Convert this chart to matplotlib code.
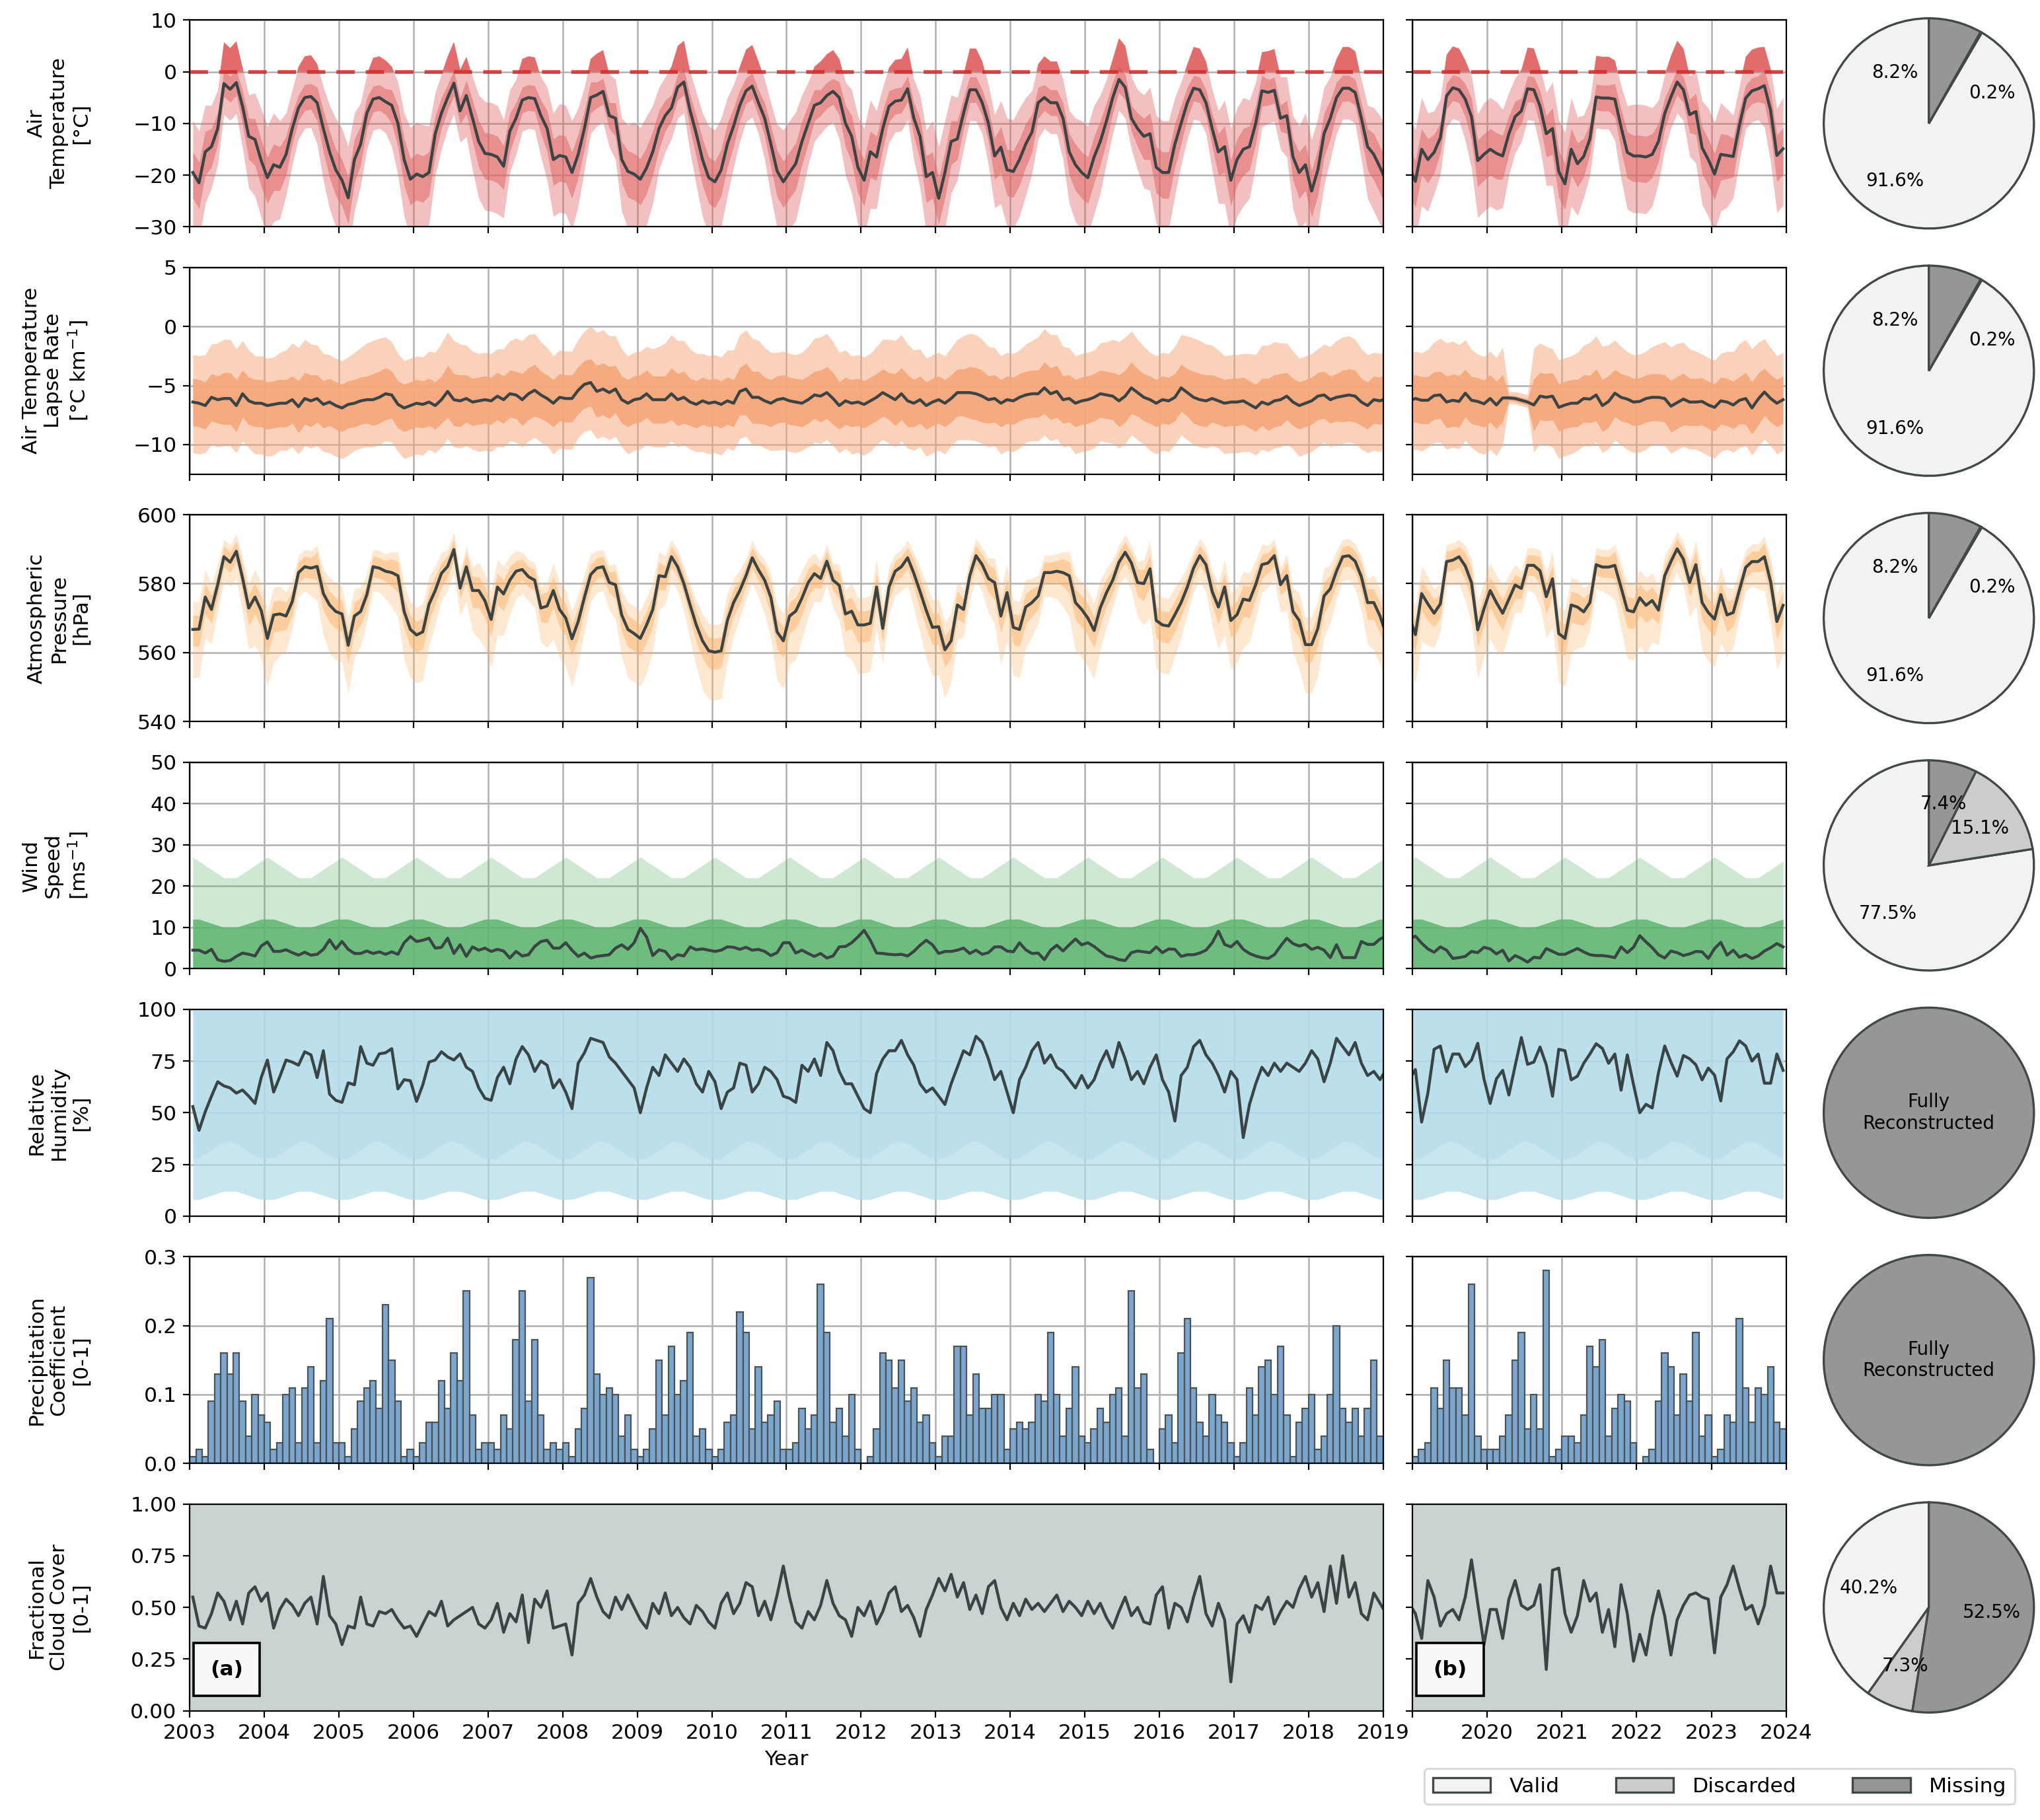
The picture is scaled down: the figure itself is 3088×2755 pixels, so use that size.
import numpy as np
import matplotlib.pyplot as plt
from matplotlib.patches import Patch

plt.rcParams['font.family'] = 'DejaVu Sans'
plt.rcParams['font.size'] = 11.3

# ---- data: monthly means, one row per year 2003 ... 2023 ----
years = np.arange(2003, 2024)

temp_monthly = [
    [-19.5, -21.5, -15.5, -14.5, -11.0, -2.3, -3.4, -2.1, -6.7, -12.5, -13.1, -17.2],
    [-20.5, -18.0, -18.5, -16.0, -11.0, -7.0, -5.0, -4.8, -6.0, -11.0, -15.5, -19.0],
    [-21.0, -24.4, -17.0, -14.0, -8.0, -5.3, -5.0, -5.8, -6.5, -10.0, -17.0, -20.8],
    [-19.8, -20.3, -19.5, -12.0, -8.0, -5.0, -2.2, -7.6, -4.6, -9.0, -13.5, -15.8],
    [-16.0, -16.5, -18.3, -11.5, -9.0, -5.5, -5.0, -5.2, -8.5, -11.0, -17.0, -16.2],
    [-16.5, -19.5, -16.0, -11.0, -5.0, -4.5, -3.8, -8.5, -9.0, -17.0, -19.3, -19.8],
    [-20.8, -18.6, -15.5, -11.0, -8.5, -7.0, -3.0, -2.0, -7.5, -12.0, -17.0, -20.5],
    [-21.3, -19.0, -14.0, -10.5, -6.5, -3.7, -2.8, -6.0, -9.0, -14.0, -19.2, -21.3],
    [-19.5, -17.8, -13.5, -10.0, -6.5, -6.0, -4.6, -3.8, -5.0, -10.0, -12.5, -18.5],
    [-21.0, -15.5, -16.5, -11.0, -6.7, -5.7, -5.5, -3.3, -9.0, -12.5, -20.3, -19.5],
    [-24.5, -19.5, -13.5, -13.0, -8.0, -3.5, -3.5, -6.0, -10.0, -16.3, -14.6, -19.0],
    [-19.3, -17.0, -14.0, -11.7, -6.0, -5.0, -6.0, -6.0, -9.0, -15.5, -18.0, -19.5],
    [-20.5, -16.5, -13.5, -9.5, -5.0, -1.5, -3.0, -9.0, -11.0, -12.5, -12.0, -18.5],
    [-19.5, -19.5, -14.0, -10.0, -6.0, -3.2, -3.5, -6.0, -11.0, -15.5, -14.5, -21.0],
    [-17.0, -15.0, -14.5, -10.0, -3.7, -4.0, -3.6, -9.0, -8.5, -16.5, -19.5, -18.0],
    [-23.1, -19.0, -12.0, -9.0, -5.0, -3.2, -3.2, -4.0, -9.0, -14.5, -16.0, -18.5],
    [-21.2, -15.0, -17.0, -15.6, -12.8, -4.7, -3.1, -3.5, -5.3, -8.7, -17.2, -16.0],
    [-15.0, -15.8, -16.3, -12.0, -8.7, -7.6, -3.3, -3.5, -6.7, -12.0, -11.0, -19.3],
    [-21.7, -15.0, -17.8, -16.4, -13.0, -4.9, -5.1, -5.1, -5.3, -10.7, -15.6, -16.3],
    [-16.3, -16.5, -16.0, -13.5, -8.1, -4.9, -2.0, -3.5, -8.3, -7.7, -14.7, -17.0],
    [-19.8, -16.0, -16.2, -16.4, -10.3, -5.1, -3.7, -3.3, -2.7, -7.5, -16.2, -14.9],
]

lapse_monthly = [
    [-6.4, -6.5, -6.7, -6.0, -6.2, -6.1, -6.1, -6.7, -5.7, -6.3, -6.5, -6.5],
    [-6.7, -6.6, -6.5, -6.5, -6.2, -6.8, -6.1, -6.3, -6.1, -6.6, -6.4, -6.7],
    [-6.9, -6.6, -6.5, -6.3, -6.2, -6.2, -6.0, -5.7, -5.8, -6.6, -6.9, -6.7],
    [-6.5, -6.6, -6.4, -6.7, -6.2, -5.5, -6.2, -6.3, -6.1, -6.4, -6.3, -6.2],
    [-6.3, -5.9, -6.2, -5.7, -5.8, -6.2, -5.7, -5.4, -5.8, -6.1, -6.5, -6.0],
    [-6.1, -6.1, -5.4, -4.9, -4.75, -5.5, -5.3, -5.6, -5.3, -6.2, -6.5, -6.2],
    [-6.1, -5.7, -6.2, -6.2, -6.2, -5.7, -6.2, -6.0, -6.4, -6.6, -6.3, -6.5],
    [-6.4, -6.6, -6.3, -6.5, -5.5, -5.3, -6.0, -6.0, -6.3, -6.5, -6.2, -6.1],
    [-6.3, -6.4, -6.5, -6.2, -5.8, -5.9, -5.6, -6.1, -6.7, -6.3, -6.5, -6.4],
    [-6.6, -6.3, -6.0, -5.6, -5.9, -6.2, -5.7, -6.3, -6.5, -6.2, -6.7, -6.4],
    [-6.2, -6.5, -6.1, -5.6, -5.6, -5.6, -5.7, -5.9, -6.2, -6.1, -6.5, -6.2],
    [-6.3, -6.0, -5.8, -5.7, -5.7, -5.2, -5.7, -5.5, -6.2, -6.1, -6.5, -6.3],
    [-6.2, -6.0, -5.7, -5.8, -5.9, -6.3, -5.9, -5.2, -5.6, -6.0, -6.2, -6.5],
    [-6.2, -6.3, -6.0, -5.2, -5.6, -6.0, -6.2, -6.3, -6.1, -6.3, -6.5, -6.4],
    [-6.4, -6.3, -6.6, -6.9, -6.4, -6.6, -6.3, -6.2, -5.9, -6.4, -6.7, -6.5],
    [-6.3, -5.9, -5.8, -6.2, -6.0, -5.9, -5.8, -5.9, -6.4, -6.7, -6.2, -6.3],
    [-6.1, -6.25, -6.25, -5.85, -5.8, -6.4, -6.25, -6.35, -5.65, -6.25, -6.35, -6.55],
    [-6.1, -6.65, -6.05, -6.05, -6.1, -6.25, -6.4, -6.65, -5.9, -6.0, -5.9, -6.85],
    [-6.65, -6.5, -6.5, -6.1, -6.15, -5.8, -6.7, -6.35, -5.65, -6.0, -6.15, -6.4],
    [-6.35, -6.1, -6.0, -6.0, -6.1, -6.75, -6.45, -6.15, -6.4, -6.4, -6.35, -6.65],
    [-6.85, -6.3, -6.4, -6.65, -6.25, -6.1, -6.9, -6.15, -5.55, -6.1, -6.5, -6.2],
]

pres_monthly = [
    [566.7, 566.8, 576.1, 572.5, 579.7, 587.8, 586.2, 589.4, 581.6, 572.9, 576.1, 572.2],
    [564.1, 570.9, 571.2, 570.6, 574.8, 583.2, 584.9, 584.5, 585.0, 577.1, 573.8, 571.9],
    [571.2, 562.1, 570.6, 571.9, 576.8, 584.9, 584.5, 583.6, 583.2, 582.3, 571.9, 566.7],
    [565.1, 566.0, 574.0, 578.0, 583.0, 585.0, 589.9, 578.7, 584.9, 578.0, 578.0, 575.0],
    [569.6, 579.0, 577.0, 581.0, 583.6, 584.1, 582.0, 581.0, 572.9, 573.5, 578.0, 572.5],
    [570.0, 564.0, 569.0, 576.0, 582.6, 584.5, 584.9, 580.3, 579.7, 570.9, 566.7, 565.5],
    [564.1, 568.0, 572.5, 582.3, 582.0, 587.8, 584.9, 580.0, 573.8, 568.0, 563.4, 560.5],
    [560.1, 560.5, 569.3, 574.5, 578.0, 582.3, 587.5, 584.0, 581.0, 576.0, 566.0, 563.4],
    [570.6, 572.0, 575.8, 580.3, 582.9, 581.5, 586.5, 581.0, 579.5, 571.2, 572.0, 568.0],
    [568.0, 568.5, 579.0, 567.0, 579.0, 583.6, 584.9, 587.5, 583.0, 577.7, 572.2, 567.3],
    [567.5, 560.8, 563.4, 573.8, 572.5, 582.3, 588.1, 585.5, 581.5, 580.3, 570.6, 577.4],
    [567.3, 566.7, 573.2, 574.5, 576.4, 583.2, 583.2, 583.6, 583.2, 582.3, 574.5, 572.5],
    [570.0, 566.4, 573.0, 577.4, 581.0, 586.2, 589.1, 586.0, 580.3, 580.0, 584.3, 569.3],
    [568.0, 567.7, 571.0, 574.5, 579.0, 584.5, 588.1, 585.5, 577.7, 573.2, 579.0, 569.3],
    [571.0, 575.5, 575.1, 579.7, 585.5, 586.0, 588.1, 579.7, 582.3, 571.9, 569.3, 562.3],
    [562.3, 567.0, 576.4, 578.5, 583.6, 587.8, 588.1, 586.5, 582.0, 574.5, 574.5, 570.6],
    [565.2, 577.1, 574.1, 571.4, 574.1, 586.4, 586.8, 587.8, 585.1, 580.3, 566.6, 572.7],
    [578.0, 574.5, 571.4, 575.5, 579.6, 578.6, 585.3, 585.3, 583.7, 576.2, 581.4, 565.5],
    [564.1, 573.8, 573.2, 571.8, 574.5, 585.5, 584.8, 584.8, 585.3, 578.9, 572.3, 571.8],
    [575.9, 573.7, 575.1, 572.3, 582.3, 586.4, 590.1, 587.1, 580.3, 585.5, 574.5, 571.6],
    [569.7, 576.8, 570.9, 571.6, 578.2, 584.7, 586.4, 586.4, 587.8, 580.5, 569.0, 573.7],
]

wind_monthly = [
    [4.5, 4.5, 3.8, 4.7, 2.2, 1.8, 2.0, 3.0, 3.8, 3.5, 3.1, 5.5],
    [6.5, 4.2, 4.2, 4.6, 3.9, 3.3, 4.0, 3.3, 3.5, 4.7, 7.0, 4.8],
    [6.6, 4.7, 3.7, 3.7, 4.3, 3.7, 4.1, 3.5, 4.1, 3.5, 6.3, 7.8],
    [6.6, 6.9, 7.4, 5.0, 5.2, 7.4, 3.7, 5.8, 3.0, 5.3, 4.5, 5.0],
    [4.2, 4.7, 4.3, 2.6, 4.2, 3.1, 3.4, 5.4, 6.6, 6.9, 5.0, 5.0],
    [6.3, 4.5, 3.0, 3.8, 2.6, 3.0, 3.2, 3.4, 5.0, 5.8, 4.7, 6.3],
    [9.8, 7.7, 3.2, 4.6, 4.2, 2.3, 3.4, 3.1, 5.3, 4.6, 4.8, 4.5],
    [4.2, 4.5, 5.3, 5.2, 4.7, 5.2, 4.5, 4.7, 4.2, 3.2, 3.9, 6.3],
    [6.3, 3.8, 4.5, 3.7, 3.0, 3.7, 2.6, 3.1, 5.3, 5.4, 6.3, 7.7],
    [9.3, 6.9, 3.8, 3.7, 3.5, 3.4, 3.5, 3.1, 4.2, 5.7, 6.9, 5.8],
    [3.7, 4.2, 4.2, 4.5, 5.0, 3.7, 4.5, 3.5, 3.9, 5.3, 5.3, 4.3],
    [4.1, 6.3, 4.6, 3.7, 3.8, 2.2, 4.5, 5.7, 4.3, 5.8, 7.2, 5.8],
    [6.3, 5.4, 4.2, 3.1, 2.8, 2.2, 2.0, 3.9, 4.3, 4.1, 3.9, 5.3],
    [3.9, 4.8, 4.7, 3.0, 3.4, 3.4, 3.8, 4.5, 6.3, 9.1, 5.9, 5.3],
    [6.6, 4.7, 3.7, 3.1, 2.7, 2.5, 3.4, 5.5, 7.4, 6.1, 5.5, 5.9],
    [4.7, 5.2, 4.5, 2.7, 5.8, 2.7, 2.7, 2.7, 6.6, 5.9, 5.9, 7.2],
    [7.9, 6.2, 4.8, 4.0, 5.3, 4.5, 2.5, 2.7, 3.0, 4.2, 3.9, 5.2],
    [4.8, 3.6, 4.5, 1.9, 3.2, 2.5, 1.6, 2.8, 2.6, 4.9, 4.2, 3.5],
    [3.5, 4.2, 4.9, 4.1, 3.4, 3.2, 3.2, 3.0, 2.7, 5.3, 3.9, 5.2],
    [8.0, 6.5, 5.1, 3.4, 2.6, 4.3, 3.9, 3.2, 3.6, 4.2, 4.1, 2.5],
    [4.9, 6.4, 3.3, 4.5, 2.8, 3.4, 2.5, 3.1, 4.3, 5.1, 6.1, 5.3],
]

rh_monthly = [
    [53, 41.5, 50.5, 58, 65, 63, 62, 59.5, 61, 58, 54.5, 67],
    [75.5, 60, 67.5, 75.5, 74.5, 73, 79.5, 78, 67, 80, 59, 56],
    [55, 64.5, 63.5, 82, 74, 73, 78.5, 79, 81, 61.5, 66, 65.5],
    [55.5, 63.5, 74.5, 75.5, 79.5, 77, 75.5, 78.5, 72, 70, 62, 57],
    [56, 67, 72, 64, 76, 82, 78, 70, 75, 73, 62, 66],
    [60, 52, 74, 79, 86, 85, 84, 77, 74, 70, 66, 62],
    [50, 62, 72, 68, 78, 74, 70, 76, 72, 64, 60, 70],
    [65, 52, 60, 62, 74, 73, 60, 64, 72, 70, 66, 58],
    [57, 55, 73, 70, 76, 68, 84, 80, 70, 64, 64, 58],
    [52, 50, 69, 76, 80, 80, 85, 78, 73, 64, 60, 62],
    [58, 54, 64, 72, 80, 78, 87, 84, 76, 66, 70, 60],
    [50, 66, 72, 80, 84, 74, 78, 72, 70, 66, 62, 68],
    [62, 66, 74, 80, 72, 84, 76, 66, 70, 64, 72, 78],
    [66, 60, 46, 68, 72, 82, 85, 78, 74, 68, 60, 70],
    [66, 38, 54, 64, 72, 68, 74, 70, 74, 72, 70, 74],
    [80, 76, 65, 74, 86, 82, 78, 84, 74, 68, 70, 66],
    [70.9, 45.5, 59.5, 80.7, 82.3, 69.8, 78.4, 78.4, 72.3, 75.5, 83.6, 66.4],
    [54.5, 66.4, 70.5, 58.6, 72.7, 86.4, 73.4, 74.5, 81.8, 73.2, 58.0, 80.7],
    [80.0, 65.9, 67.7, 73.9, 78.4, 83.4, 81.1, 73.9, 78.4, 60.9, 78.0, 63.6],
    [50.0, 54.1, 52.3, 69.3, 82.3, 74.5, 67.7, 77.7, 76.1, 73.2, 65.9, 71.6],
    [68.2, 55.7, 76.1, 79.5, 84.8, 82.3, 75.0, 78.4, 64.3, 64.3, 78.4, 70.5],
]

precip_monthly = [
    [0.01, 0.02, 0.01, 0.09, 0.13, 0.16, 0.13, 0.16, 0.09, 0.04, 0.10, 0.07],
    [0.06, 0.02, 0.03, 0.10, 0.11, 0.03, 0.11, 0.14, 0.03, 0.12, 0.21, 0.03],
    [0.03, 0.01, 0.05, 0.09, 0.11, 0.12, 0.08, 0.23, 0.15, 0.09, 0.01, 0.02],
    [0.01, 0.03, 0.06, 0.06, 0.12, 0.08, 0.16, 0.12, 0.25, 0.07, 0.02, 0.03],
    [0.03, 0.02, 0.07, 0.05, 0.18, 0.25, 0.09, 0.18, 0.07, 0.02, 0.03, 0.02],
    [0.03, 0.01, 0.05, 0.08, 0.27, 0.13, 0.10, 0.11, 0.10, 0.04, 0.07, 0.02],
    [0.01, 0.02, 0.05, 0.15, 0.07, 0.17, 0.10, 0.12, 0.19, 0.04, 0.05, 0.02],
    [0.01, 0.02, 0.06, 0.07, 0.22, 0.19, 0.05, 0.14, 0.06, 0.07, 0.09, 0.02],
    [0.02, 0.03, 0.08, 0.05, 0.07, 0.26, 0.19, 0.06, 0.08, 0.04, 0.10, 0.02],
    [0.00, 0.01, 0.05, 0.16, 0.15, 0.11, 0.15, 0.09, 0.11, 0.06, 0.07, 0.03],
    [0.01, 0.04, 0.04, 0.17, 0.17, 0.07, 0.13, 0.08, 0.08, 0.10, 0.10, 0.02],
    [0.05, 0.06, 0.05, 0.06, 0.10, 0.09, 0.19, 0.10, 0.04, 0.08, 0.14, 0.04],
    [0.03, 0.05, 0.08, 0.06, 0.10, 0.11, 0.04, 0.25, 0.11, 0.13, 0.02, 0.00],
    [0.05, 0.07, 0.03, 0.16, 0.21, 0.11, 0.06, 0.04, 0.10, 0.07, 0.06, 0.03],
    [0.01, 0.03, 0.11, 0.07, 0.14, 0.15, 0.10, 0.17, 0.07, 0.01, 0.06, 0.08],
    [0.10, 0.02, 0.04, 0.10, 0.20, 0.08, 0.06, 0.08, 0.04, 0.08, 0.15, 0.04],
    [0.01, 0.02, 0.03, 0.11, 0.08, 0.15, 0.11, 0.11, 0.07, 0.26, 0.04, 0.02],
    [0.02, 0.02, 0.04, 0.07, 0.15, 0.19, 0.05, 0.10, 0.05, 0.28, 0.01, 0.02],
    [0.04, 0.04, 0.03, 0.07, 0.17, 0.14, 0.18, 0.04, 0.08, 0.10, 0.09, 0.03],
    [0.00, 0.01, 0.02, 0.09, 0.16, 0.14, 0.07, 0.13, 0.09, 0.19, 0.04, 0.07],
    [0.01, 0.02, 0.07, 0.06, 0.21, 0.11, 0.06, 0.11, 0.10, 0.14, 0.06, 0.05],
]

cloud_monthly = [
    [0.55, 0.41, 0.40, 0.47, 0.57, 0.53, 0.44, 0.53, 0.42, 0.57, 0.60, 0.53],
    [0.57, 0.40, 0.49, 0.54, 0.51, 0.46, 0.52, 0.55, 0.42, 0.65, 0.46, 0.42],
    [0.32, 0.41, 0.40, 0.55, 0.42, 0.41, 0.48, 0.47, 0.49, 0.44, 0.40, 0.41],
    [0.36, 0.42, 0.48, 0.46, 0.53, 0.41, 0.44, 0.46, 0.48, 0.50, 0.42, 0.40],
    [0.44, 0.52, 0.38, 0.47, 0.43, 0.56, 0.33, 0.54, 0.50, 0.58, 0.40, 0.41],
    [0.42, 0.27, 0.52, 0.56, 0.64, 0.55, 0.48, 0.45, 0.55, 0.49, 0.56, 0.50],
    [0.44, 0.40, 0.52, 0.47, 0.57, 0.46, 0.50, 0.45, 0.42, 0.51, 0.48, 0.43],
    [0.40, 0.52, 0.57, 0.47, 0.52, 0.62, 0.60, 0.46, 0.53, 0.44, 0.56, 0.70],
    [0.55, 0.43, 0.40, 0.48, 0.44, 0.51, 0.63, 0.52, 0.46, 0.44, 0.36, 0.50],
    [0.46, 0.53, 0.42, 0.48, 0.57, 0.60, 0.48, 0.51, 0.45, 0.36, 0.49, 0.56],
    [0.64, 0.58, 0.66, 0.55, 0.62, 0.49, 0.56, 0.47, 0.60, 0.63, 0.50, 0.44],
    [0.52, 0.46, 0.54, 0.49, 0.52, 0.48, 0.52, 0.56, 0.48, 0.53, 0.50, 0.46],
    [0.53, 0.47, 0.52, 0.45, 0.40, 0.48, 0.55, 0.46, 0.50, 0.43, 0.42, 0.56],
    [0.60, 0.40, 0.52, 0.50, 0.43, 0.55, 0.65, 0.47, 0.41, 0.52, 0.44, 0.14],
    [0.42, 0.46, 0.38, 0.51, 0.49, 0.55, 0.42, 0.48, 0.53, 0.50, 0.59, 0.65],
    [0.55, 0.62, 0.48, 0.70, 0.52, 0.75, 0.55, 0.62, 0.47, 0.44, 0.57, 0.52],
    [0.47, 0.35, 0.63, 0.55, 0.41, 0.47, 0.49, 0.44, 0.55, 0.73, 0.52, 0.32],
    [0.49, 0.49, 0.35, 0.54, 0.63, 0.51, 0.49, 0.51, 0.61, 0.20, 0.68, 0.69],
    [0.47, 0.38, 0.46, 0.63, 0.53, 0.57, 0.38, 0.49, 0.31, 0.61, 0.47, 0.24],
    [0.37, 0.27, 0.45, 0.58, 0.46, 0.27, 0.44, 0.51, 0.56, 0.57, 0.55, 0.54],
    [0.28, 0.55, 0.61, 0.70, 0.59, 0.49, 0.51, 0.42, 0.51, 0.70, 0.57, 0.57],
]

# typical spread of the daily values around the monthly mean, per calendar month
temp_core_lo = [-5, -5, -4.5, -4, -3, -2.5, -2.5, -2.5, -3.5, -4.5, -5, -5]
temp_core_hi = [4, 4, 4, 3.5, 3, 2.5, 2.5, 2.5, 3, 3.5, 4, 4]
temp_ext_lo = [-11, -11, -10, -8, -7, -6, -6, -6, -8, -10, -11, -11]
temp_ext_hi = [10, 10, 9, 8, 7.5, 8, 8, 8, 7.5, 8, 9, 10]
lapse_core = [2.0, 2.0, 2.0, 2.0, 2.0, 2.2, 2.2, 2.2, 2.0, 2.0, 2.0, 2.0]
lapse_ext_lo = [-4.3, -4.3, -4.0, -4.0, -4.0, -4.0, -4.0, -4.0, -4.0, -4.0, -4.3, -4.3]
lapse_ext_hi = [4.0, 4.0, 4.3, 4.5, 4.8, 5.0, 5.0, 4.8, 4.5, 4.3, 4.0, 4.0]
lapse_gap = [(2020, 4), (2020, 5), (2020, 6), (2020, 7)]   # no valid daily values
pres_core_lo = [-5, -5, -5, -4, -4, -3, -3, -3, -4, -5, -5, -5]
pres_core_hi = [4, 4, 4, 4, 3, 3, 3, 3, 4, 4, 4, 4]
pres_ext_lo = [-14, -14, -12, -10, -8, -7, -7, -8, -10, -12, -14, -14]
pres_ext_hi = [8, 8, 8, 7, 6, 5, 5, 5, 6, 7, 8, 8]
wind_core_hi = [12, 12, 11.5, 11, 10.5, 10, 10, 10, 10.5, 11, 11.5, 12]
wind_ext_hi = [27, 26, 25, 24, 23, 22, 22, 22, 23, 24, 25, 26]
rh_core_lo = [28, 28, 30, 32, 34, 36, 36, 35, 33, 31, 29, 28]
rh_ext_lo = [8, 8, 9, 10, 11, 12, 12, 12, 11, 10, 9, 8]
rh_top = 100
cloud_top = 1.0

# data quality shares (%)
pie_valid = [91.6, 91.6, 91.6, 77.5, 0, 0, 40.2]
pie_discarded = [0.2, 0.2, 0.2, 15.1, 0, 0, 7.3]
pie_missing = [8.2, 8.2, 8.2, 7.4, 100, 100, 52.5]

ylabels = ['Air\nTemperature\n[°C]',
           'Air Temperature\nLapse Rate\n[°C km$^{-1}$]',
           'Atmospheric\nPressure\n[hPa]',
           'Wind\nSpeed\n[ms$^{-1}$]',
           'Relative\nHumidity\n[%]',
           'Precipitation\nCoefficient\n[0-1]',
           'Fractional\nCloud Cover\n[0-1]']

# ---- derived arrays ----
n = len(years)
x = (years[:, None] + (np.arange(12) + 0.5) / 12).ravel()
x_start = (years[:, None] + np.arange(12) / 12).ravel()


def flat(a):
    return np.array(a, dtype=float).ravel()


def clim(a):
    return np.tile(np.array(a, dtype=float), n)


temp = flat(temp_monthly)
lapse = flat(lapse_monthly)
pres = flat(pres_monthly)
wind = flat(wind_monthly)
rh = flat(rh_monthly)
precip = flat(precip_monthly)
cloud = flat(cloud_monthly)

lapse_scale = np.ones(n * 12)
for yy, mm in lapse_gap:
    lapse_scale[(yy - years[0]) * 12 + mm - 1] = 0.12

line_c = '#3a4444'
edge_c = '#404848'
c_valid, c_disc, c_miss = '#f2f2f2', '#cccccc', '#969696'

# ---- figure ----
fig = plt.figure(figsize=(15.44, 13.775), dpi=200)
row_top = 0.989
row_h = 0.1136
row_step = 0.1359
left_x, left_w = 0.093, 0.585
mid_x, mid_w = 0.6923, 0.1833
pie_w, pie_h = 0.1051, 0.1179
pie_cx = 0.9455

axes_l, axes_m, axes_p = [], [], []
for i in range(7):
    b = row_top - i * row_step - row_h
    al = fig.add_axes([left_x, b, left_w, row_h])
    am = fig.add_axes([mid_x, b, mid_w, row_h], sharey=al)
    ap = fig.add_axes([pie_cx - pie_w / 2, b + row_h / 2 - pie_h / 2, pie_w, pie_h])
    axes_l.append(al)
    axes_m.append(am)
    axes_p.append(ap)

for i in range(7):
    for ax in (axes_l[i], axes_m[i]):
        ax.set_axisbelow(True)
        ax.grid(True, color='#b0b0b0', lw=0.9)
        if i == 0:
            ax.fill_between(x, temp + clim(temp_ext_lo), temp + clim(temp_ext_hi),
                            color='#e06262', alpha=0.4, lw=0)
            ax.fill_between(x, temp + clim(temp_core_lo), temp + clim(temp_core_hi),
                            color='#e06262', alpha=0.5, lw=0)
            hi = temp + clim(temp_ext_hi)
            ax.fill_between(x, 0, hi, where=hi > 0, interpolate=True,
                            color='#d62728', alpha=0.55, lw=0)
            ax.axhline(0, color='#d62728', ls=(0, (5, 3)), lw=2, alpha=0.85)
            ax.plot(x, temp, color=line_c, lw=1.6)
        elif i == 1:
            ax.fill_between(x, lapse + clim(lapse_ext_lo) * lapse_scale,
                            lapse + clim(lapse_ext_hi) * lapse_scale,
                            color='#f6a67a', alpha=0.5, lw=0)
            ax.fill_between(x, lapse - clim(lapse_core) * lapse_scale,
                            lapse + clim(lapse_core) * lapse_scale,
                            color='#f6a67a', alpha=0.9, lw=0)
            ax.plot(x, lapse, color=line_c, lw=1.6)
        elif i == 2:
            ax.fill_between(x, pres + clim(pres_ext_lo), pres + clim(pres_ext_hi),
                            color='#fdb46a', alpha=0.3, lw=0)
            ax.fill_between(x, pres + clim(pres_core_lo), pres + clim(pres_core_hi),
                            color='#fdb46a', alpha=0.5, lw=0)
            ax.plot(x, pres, color=line_c, lw=1.6)
        elif i == 3:
            ax.fill_between(x, 0, clim(wind_ext_hi), color='#5db56f', alpha=0.3, lw=0)
            ax.fill_between(x, 0, clim(wind_core_hi), color='#5db56f', alpha=0.85, lw=0)
            ax.plot(x, wind, color=line_c, lw=1.6)
        elif i == 4:
            ax.fill_between(x, clim(rh_ext_lo), rh_top, color='#b3dcea', alpha=0.7, lw=0)
            ax.fill_between(x, clim(rh_core_lo), rh_top, color='#b3dcea', alpha=0.6, lw=0)
            ax.plot(x, rh, color=line_c, lw=1.6)
        elif i == 5:
            ax.bar(x_start, precip, width=1 / 12, align='edge', color='#7aa6d0',
                   edgecolor='#4a5252', lw=0.8)
        else:
            ax.bar(x_start, np.full_like(cloud, cloud_top), width=1 / 12, align='edge',
                   color='#cbd2d2', lw=0)
            ax.plot(x, cloud, color=line_c, lw=1.6)

    al, am = axes_l[i], axes_m[i]
    al.set_xlim(2003, 2019)
    am.set_xlim(2019, 2024)
    al.set_xticks(np.arange(2003, 2020))
    am.set_xticks(np.arange(2019, 2025))
    am.tick_params(labelleft=False)
    al.set_ylabel(ylabels[i])
    al.yaxis.set_label_coords(-0.083, 0.5)
    if i < 6:
        al.tick_params(labelbottom=False)
        am.tick_params(labelbottom=False)
    else:
        am.set_xticklabels([''] + [str(v) for v in range(2020, 2025)])
        al.set_xlabel('Year')

ylims = [(-30, 10), (-12.5, 5), (540, 600), (0, 50), (0, 100), (0, 0.3), (0, 1)]
yticks = [np.arange(-30, 11, 10), np.arange(-10, 6, 5), np.arange(540, 601, 20),
          np.arange(0, 51, 10), np.arange(0, 101, 25), np.arange(0, 0.31, 0.1),
          np.arange(0, 1.01, 0.25)]
for i in range(7):
    axes_l[i].set_ylim(*ylims[i])
    axes_l[i].set_yticks(yticks[i])
axes_l[5].set_yticklabels(['0.0', '0.1', '0.2', '0.3'])
axes_l[6].set_yticklabels(['0.00', '0.25', '0.50', '0.75', '1.00'])

box = dict(boxstyle='square,pad=0.8', facecolor='#f7f8f8', edgecolor='black', lw=1.3)
axes_l[6].text(0.031, 0.2, '(a)', transform=axes_l[6].transAxes, ha='center',
               va='center', fontweight='bold', bbox=box)
axes_m[6].text(0.101, 0.2, '(b)', transform=axes_m[6].transAxes, ha='center',
               va='center', fontweight='bold', bbox=box)

# ---- pies ----
wp = dict(edgecolor=edge_c, linewidth=1.2)
moved = [(-0.32, -0.55), (0.6, 0.29), (-0.32, 0.48)]
for i, ax in enumerate(axes_p):
    if pie_missing[i] >= 100:
        ax.pie([pie_missing[i]], colors=[c_miss], startangle=90, wedgeprops=wp)
        ax.text(0, 0, 'Fully\nReconstructed', ha='center', va='center', fontsize=10)
    else:
        vals = [pie_valid[i], pie_discarded[i], pie_missing[i]]
        w, t, at = ax.pie(vals, colors=[c_valid, c_disc, c_miss], startangle=90,
                          autopct='%1.1f%%', pctdistance=0.6, wedgeprops=wp,
                          textprops=dict(fontsize=10))
        if i < 3:
            for txt, pos in zip(at, moved):
                txt.set_position(pos)
    ax.set_xlim(-1.02, 1.02)
    ax.set_ylim(-1.02, 1.02)
    ax.set_aspect('equal')

handles = [Patch(facecolor=c, edgecolor=edge_c, lw=1.2, label=l)
           for c, l in zip([c_valid, c_disc, c_miss], ['Valid', 'Discarded', 'Missing'])]
fig.legend(handles=handles, loc='center', bbox_to_anchor=(0.843, 0.0185), ncol=3,
           handlelength=2.8, handletextpad=0.9, columnspacing=2.7)

fig.savefig('out.png', dpi=200)
